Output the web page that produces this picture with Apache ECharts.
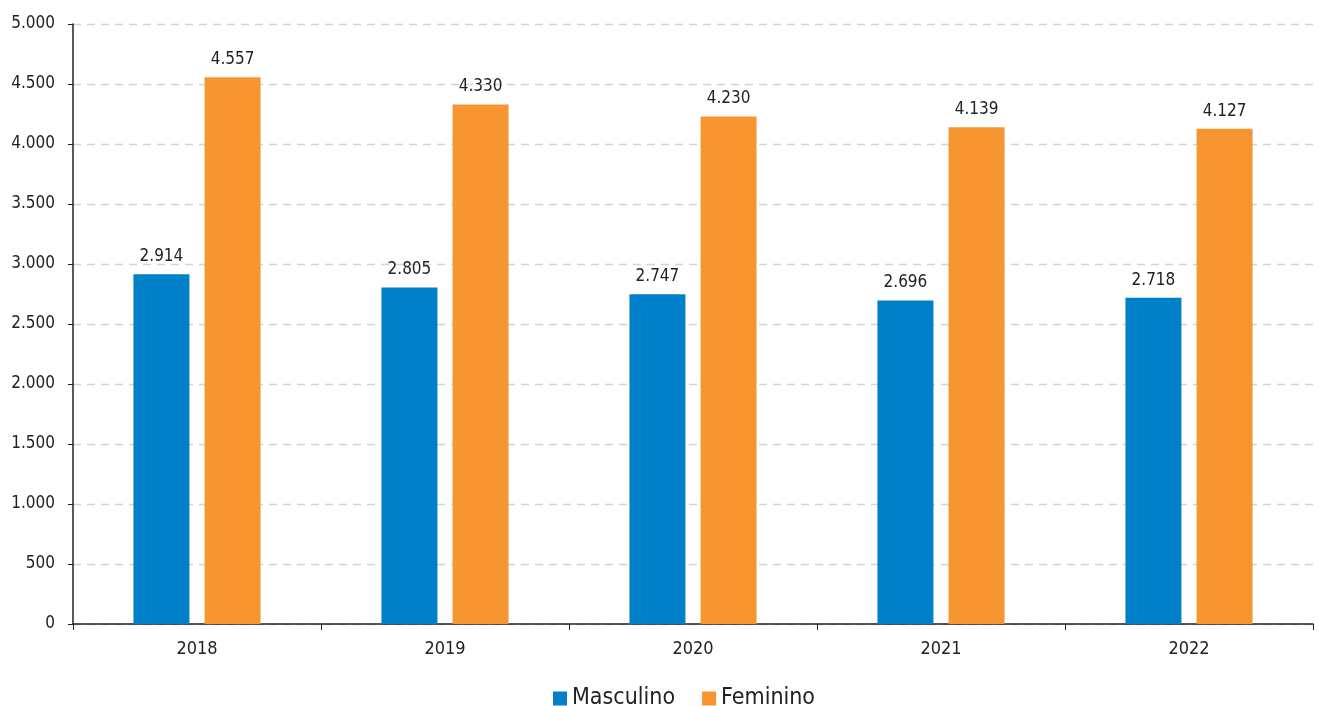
<!DOCTYPE html>
<html><head><meta charset="utf-8">
<script src="https://cdn.jsdelivr.net/npm/echarts@6/dist/echarts.min.js"></script>
<style>html,body{margin:0;padding:0;background:#fff}#c{width:1319px;height:706px}</style>
</head><body><div id="c"></div>
<script>
const categories = ['2018','2019','2020','2021','2022'];
const masculino = [2914, 2805, 2747, 2696, 2718];
const feminino = [4557, 4330, 4230, 4139, 4127];
const seriesNames = ['Masculino','Feminino'];
const FONT = '"DejaVu Sans Condensed","Liberation Sans Narrow","Roboto",sans-serif';
const fmt = v => String(v).replace(/\B(?=(\d{3})+(?!\d))/g, '.');
const chart = echarts.init(document.getElementById('c'));
const lbl = {show:true, position:'top', distance:9, fontFamily:FONT, fontSize:17, color:'#222', formatter:p=>fmt(p.value)};
chart.setOption({
  animation:false,
  grid:{left:73, right:6, top:24, bottom:82, containLabel:false},
  legend:{data:seriesNames, top:682, left:548, icon:'rect', itemWidth:14, itemHeight:14, itemGap:27,
    textStyle:{fontFamily:FONT, fontSize:23, color:'#222'}},
  xAxis:{type:'category', data:categories,
    axisLine:{lineStyle:{color:'#222', width:1.5}},
    axisTick:{show:true, length:6, lineStyle:{color:'#222'}},
    axisLabel:{fontFamily:FONT, fontSize:18, color:'#222', margin:16}},
  yAxis:{type:'value', min:0, max:5000, interval:500,
    axisLine:{show:true, lineStyle:{color:'#222', width:1.5}},
    axisTick:{show:true, length:5, lineStyle:{color:'#222'}},
    splitLine:{lineStyle:{color:'#d4d4d4', type:[8,6], width:1.3}},
    axisLabel:{fontFamily:FONT, fontSize:17, color:'#222', margin:18, formatter:fmt}},
  series:[
    {name:seriesNames[0], type:'bar', data:masculino, barWidth:56, barGap:'27%', itemStyle:{color:'#0080C8'}, label:lbl},
    {name:seriesNames[1], type:'bar', data:feminino, barWidth:56, barGap:'27%', itemStyle:{color:'#F79530'}, label:lbl}
  ]
});
</script></body></html>
